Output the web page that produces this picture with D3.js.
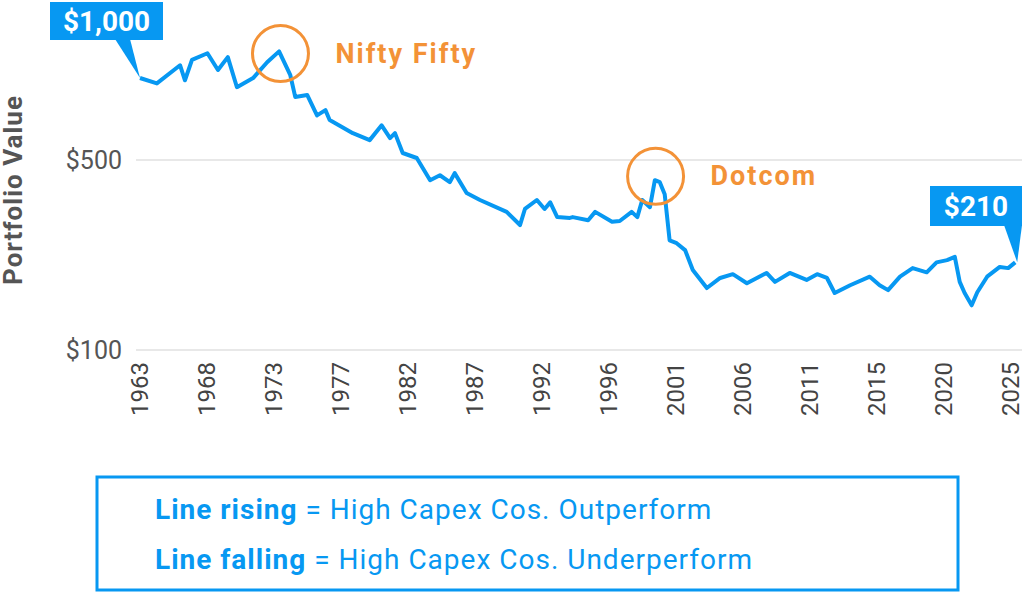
<!DOCTYPE html>
<html>
<head>
<meta charset="utf-8">
<script src="https://cdn.jsdelivr.net/npm/d3@7"></script>
<style>
  body { margin: 0; background: #fff; }
  svg { font-family: Roboto, "Liberation Sans", sans-serif; }
</style>
</head>
<body>
<svg id="chart" width="1024" height="596"></svg>
<script>
// (year as decimal, portfolio value in $)
const years = [1963.0, 1964.2, 1965.85, 1966.2, 1966.7, 1967.8, 1968.55, 1969.25, 1969.9, 1971.05,
  1972.05, 1972.9, 1973.7, 1974.05, 1974.9, 1975.6, 1976.2, 1976.5, 1978.15, 1979.35,
  1980.2, 1980.8, 1981.15, 1981.7, 1982.7, 1983.65, 1984.35, 1985.05, 1985.4, 1986.25,
  1987.2, 1989.1, 1990.05, 1990.4, 1991.25, 1991.8, 1992.2, 1992.7, 1993.6, 1993.8,
  1994.9, 1995.4, 1996.6, 1997.15, 1998.0, 1998.4, 1998.75, 1999.3, 1999.65, 2000.0,
  2000.35, 2000.7, 2001.2, 2001.8, 2002.35, 2003.35, 2004.3, 2005.2, 2006.2, 2007.6,
  2008.2, 2009.25, 2010.45, 2011.2, 2011.9, 2012.45, 2013.55, 2014.95, 2015.65, 2016.25,
  2017.1, 2018.0, 2019.0, 2019.7, 2020.45, 2021.0, 2021.35, 2021.7, 2022.2, 2022.6,
  2023.3, 2024.2, 2024.8, 2025.3];
const values = [1000, 955, 1114, 981, 1165, 1233, 1070, 1193, 925, 999,
  1143, 1253, 1024, 852, 866, 729, 762, 701, 627, 591,
  670, 601, 627, 530, 508, 421, 439, 414, 447, 378,
  356, 322, 288, 330, 356, 330, 349, 308, 306, 308,
  300, 322, 296, 298, 322, 308, 356, 335, 421, 414,
  374, 253, 247, 233, 197, 169, 184, 190, 176, 192,
  178, 192, 181, 190, 184, 162, 173, 186, 173, 166,
  186, 200, 193, 210, 214, 220, 178, 162, 146, 163,
  186, 202, 200, 210];
const tickLabels = ["1963", "1968", "1973", "1977", "1982", "1987", "1992",
  "1996", "2001", "2006", "2011", "2015", "2020", "2025"];
const yTicks = [100, 500];
const events = [{name: "Nifty Fifty", year: 1973.0, value: 1230}, {name: "Dotcom", year: 1999.7, value: 435}];
const legendLines = [["Line rising", " = High Capex Cos. Outperform"], ["Line falling", " = High Capex Cos. Underperform"]];

const blue = "#0798f2", orange = "#f39237", grey = "#555";
const svg = d3.select("#chart");

const x = d3.scaleLinear().domain([1963, 2025]).range([140, 1011]);
const y = d3.scaleLog().domain([100, 1000]).range([350, 78]);

// gridlines + y labels
svg.selectAll(".grid").data(yTicks).join("line")
  .attr("x1", 136).attr("x2", 1022)
  .attr("y1", d => y(d)).attr("y2", d => y(d))
  .attr("stroke", "#e8e8e8").attr("stroke-width", 2);
svg.selectAll(".ylab").data(yTicks).join("text")
  .attr("x", 122).attr("y", d => y(d) + 9)
  .attr("text-anchor", "end").attr("font-size", 25).attr("fill", grey)
  .text(d => "$" + d);

svg.append("text")
  .attr("transform", "translate(22,190) rotate(-90)")
  .attr("text-anchor", "middle").attr("font-size", 26).attr("font-weight", "bold")
  .attr("fill", grey).attr("letter-spacing", 1)
  .text("Portfolio Value");

// x tick labels, evenly spaced across the range
const step = (2025 - 1963) / (tickLabels.length - 1);
svg.selectAll(".xlab").data(tickLabels).join("text")
  .attr("transform", (d, i) => `translate(${x(1963 + i * step) + 8},362) rotate(-90)`)
  .attr("text-anchor", "end").attr("font-size", 24).attr("fill", "#444")
  .text(d => d);

// the line
const line = d3.line().x(d => x(d[0])).y(d => y(d[1]));
svg.append("path")
  .datum(d3.zip(years, values))
  .attr("d", line)
  .attr("fill", "none").attr("stroke", blue).attr("stroke-width", 4)
  .attr("stroke-linejoin", "round");

// event circles
const ev = svg.selectAll(".ev").data(events).join("g");
ev.append("circle")
  .attr("cx", d => x(d.year)).attr("cy", d => y(d.value)).attr("r", 28)
  .attr("fill", "none").attr("stroke", orange).attr("stroke-width", 3);
ev.append("text")
  .attr("x", d => x(d.year) + 55).attr("y", d => y(d.value) + 9)
  .attr("font-size", 27).attr("font-weight", "bold").attr("fill", orange)
  .attr("letter-spacing", 2)
  .text(d => d.name);

// value callouts
function callout(bx, by, bw, bh, base0, base1, tx, ty, label) {
  svg.append("path")
    .attr("d", `M${base0},${by + bh - 1}L${tx},${ty}L${base1},${by + bh - 1}Z`)
    .attr("fill", blue);
  svg.append("rect").attr("x", bx).attr("y", by).attr("width", bw).attr("height", bh).attr("fill", blue);
  svg.append("text").attr("x", bx + bw / 2).attr("y", by + bh / 2 + 10)
    .attr("text-anchor", "middle").attr("font-size", 28).attr("font-weight", "bold")
    .attr("fill", "#fff").text(label);
}
callout(50, 2, 113, 38, 115, 130, x(years[0]), y(values[0]), "$1,000");
callout(930, 186, 92, 40, 1004, 1022, x(years[years.length - 1]) + 2, y(values[values.length - 1]), "$210");

// legend box
svg.append("rect").attr("x", 97).attr("y", 477).attr("width", 861).attr("height", 113)
  .attr("fill", "none").attr("stroke", blue).attr("stroke-width", 3);
const lt = svg.selectAll(".leg").data(legendLines).join("text")
  .attr("x", 155).attr("y", (d, i) => 519 + i * 50)
  .attr("font-size", 28).attr("fill", blue).attr("letter-spacing", 1);
lt.append("tspan").attr("font-weight", "bold").text(d => d[0]);
lt.append("tspan").text(d => d[1]);
</script>
</body>
</html>
